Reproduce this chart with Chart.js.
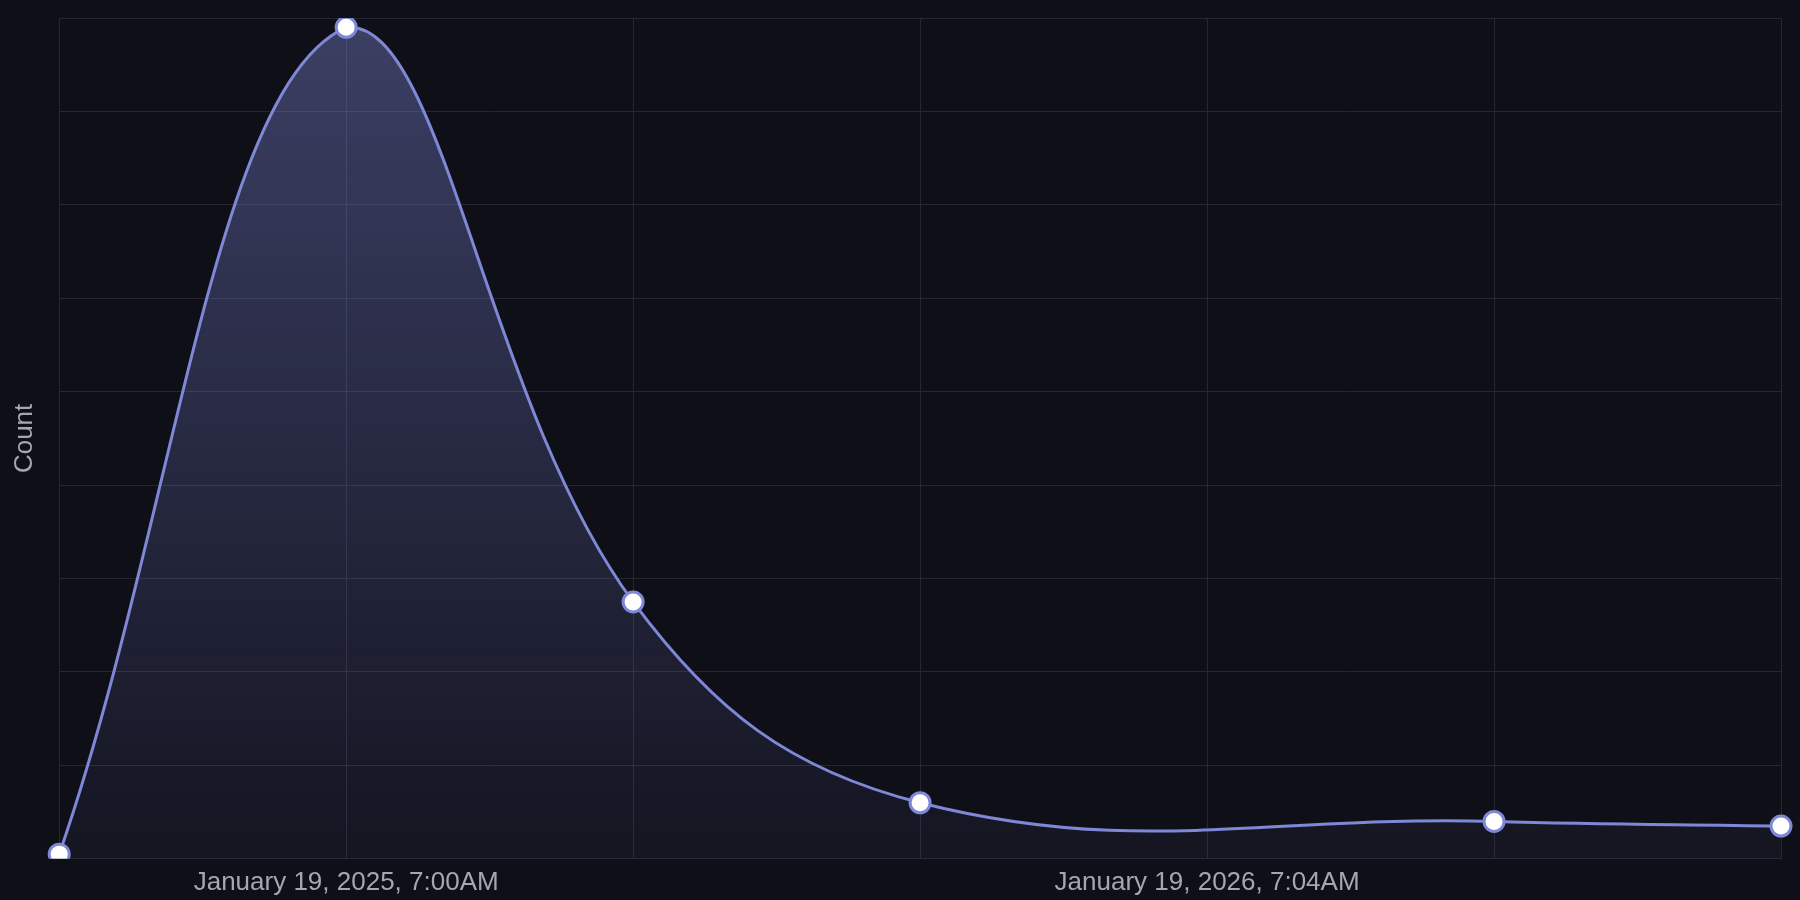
<!DOCTYPE html>
<html>
<head>
<meta charset="utf-8">
<script src="https://cdn.jsdelivr.net/npm/chart.js@4.4.1/dist/chart.umd.min.js"></script>
<style>
    html, body { margin: 0; padding: 0; background: #0f0f18; }
    #wrap { width: 1800px; height: 900px; position: relative; }
</style>
</head>
<body>
<div id="wrap"><canvas id="myChart"></canvas></div>
<script>
// x축 라벨 (표시되는 것은 2개뿐)
const tickLabels = ['', 'January 19, 2025, 7:00AM', '', '', 'January 19, 2026, 7:04AM', '', ''];
// 값 (4번째 칸은 데이터 없음)
const counts = [1, 178, 55, 12, null, 8, 7];
const yTicks = { min: 0, max: 180, step: 20 };

const lineColor = 'rgb(126, 136, 214)';
const gridColor = '#262633';
const textColor = '#a6a6b2';

Chart.defaults.font.family = '"Liberation Sans", Arial, sans-serif';

function makeFill(context) {
    const chart = context.chart;
    const area = chart.chartArea;
    if (!area) return 'rgba(126, 136, 214, 0.2)';
    const g = chart.ctx.createLinearGradient(0, area.top, 0, area.bottom);
    g.addColorStop(0, 'rgba(126, 136, 214, 0.40)');
    g.addColorStop(1, 'rgba(126, 136, 214, 0.05)');
    return g;
}

let myChart = null;

function initChart() {
    const ctx = document.getElementById('myChart').getContext('2d');
    myChart = new Chart(ctx, {
        type: 'line',
        data: {
            labels: tickLabels,
            datasets: [
                {
                    label: 'Count',
                    data: counts,
                    borderColor: lineColor,
                    backgroundColor: makeFill,
                    fill: 'origin',
                    borderWidth: 3,
                    tension: 0.4,
                    spanGaps: true,
                    pointRadius: 10,
                    pointBorderWidth: 3,
                    pointBackgroundColor: '#ffffff',
                    pointBorderColor: lineColor
                }
            ]
        },
        options: {
            responsive: true,
            maintainAspectRatio: false,
            animation: false,
            layout: {
                padding: { top: 18, right: 19, left: 5, bottom: -6 }
            },
            scales: {
                x: {
                    grid: { color: gridColor, lineWidth: 1, drawTicks: false },
                    border: { color: gridColor },
                    ticks: {
                        color: textColor,
                        font: { size: 26 },
                        padding: 8,
                        maxRotation: 0,
                        autoSkip: false
                    }
                },
                y: {
                    min: yTicks.min,
                    max: yTicks.max,
                    grid: { color: gridColor, lineWidth: 1, drawTicks: false },
                    border: { color: gridColor },
                    ticks: { display: false, stepSize: yTicks.step },
                    title: {
                        display: true,
                        text: 'Count',
                        color: textColor,
                        font: { size: 26 },
                        padding: { top: 4, bottom: 19 }
                    }
                }
            },
            plugins: {
                legend: { display: false },
                tooltip: { enabled: false }
            }
        }
    });
}

document.addEventListener('DOMContentLoaded', () => {
    initChart();
});
</script>
</body>
</html>
